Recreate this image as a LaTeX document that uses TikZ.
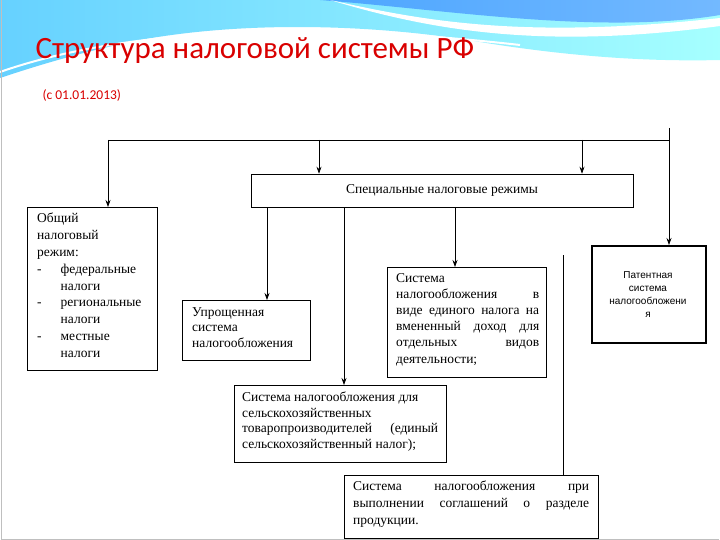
\documentclass[tikz,border=0pt]{standalone}
\usepackage{fontspec}
\setmainfont{Liberation Serif}
\newfontfamily\titlefont{Carlito}
\newfontfamily\patfont{Liberation Sans}
\usetikzlibrary{arrows.meta}
\begin{document}
\begin{tikzpicture}[x=1pt,y=-1pt,
  bx/.style={draw,line width=0.6pt,inner sep=0pt},
  tx/.style={anchor=north west,inner sep=0pt,font=\fontsize{13.5}{15.5}\selectfont},
  arr/.style={-{Stealth[length=7pt,width=5pt]},line width=0.7pt},
  ln/.style={line width=0.7pt}]
\useasboundingbox (0,0) rectangle (720,540);
\fill[white] (0,0) rectangle (720,540);
% header
\shade[left color=cyan!70!blue!60,right color=cyan!35] (0,0) -- (720,0) -- (720,60) .. controls (640,62) and (560,55) .. (480,42) .. controls (380,25) and (250,20) .. (140,40) .. controls (80,52) and (30,68) .. (0,78) -- cycle;
\shade[left color=cyan!50!blue!70,right color=cyan!50!blue!55] (320,0) -- (720,0) -- (720,15) .. controls (600,35) and (450,10) .. (320,0);
\fill[white] (330,0) .. controls (420,20) and (520,40) .. (720,18) -- (720,26) .. controls (540,50) and (430,30) .. (330,0);
\draw[white,line width=2pt] (0,72) .. controls (120,30) and (300,20) .. (520,45);
\draw[gray!50] (1,0) -- (1,539) -- (719,539);
\node[anchor=west,text=red!85!black,font=\titlefont\fontsize{31}{34}\selectfont] (title) at (32,51) {Структура налоговой системы РФ};
\node[anchor=west,text=red!85!black,font=\titlefont\fontsize{13.5}{15}\selectfont] (sub) at (39,96) {(с 01.01.2013)};
% boxes
\node[bx,minimum width=382,minimum height=33,font=\fontsize{13.5}{15}\selectfont] (spec) at (442,190.5) {Специальные налоговые режимы};
\node[bx,anchor=north west,minimum width=130,minimum height=163] (obsh) at (27,207) {};
\node[tx,text width=125,align=left,font=\fontsize{13.5}{16.8}\selectfont] at (37,213) {Общий\\налоговый\\режим:\\
-\hspace{19pt}федеральные\\\hspace{23.5pt}налоги\\-\hspace{19pt}региональные\\\hspace{23.5pt}налоги\\-\hspace{19pt}местные\\\hspace{23.5pt}налоги};
\node[bx,anchor=north west,minimum width=128,minimum height=60] (upr) at (182,300) {};
\node[tx,text width=120,align=left] at (192,307) {Упрощенная\\система\\налогообложения};
\node[bx,anchor=north west,minimum width=159,minimum height=110] (envd) at (387,267) {};
\node[tx,text width=143,align=justify,font=\fontsize{13.5}{16.2}\selectfont] at (396,273) {Система\\налогообложения\hfill в\\виде единого налога на вмененный доход для отдельных\hfill видов\\деятельности;};
\node[anchor=north west,draw,line width=1.6pt,minimum width=114,minimum height=97] (pat) at (591,245) {};
\node[align=center,font=\patfont\fontsize{10}{13}\selectfont,inner sep=0pt] at (648,295) {Патентная\\система\\налогообложени\\я};
\node[bx,anchor=north west,minimum width=212,minimum height=77] (selh) at (234,385) {};
\node[tx,text width=196,align=justify] at (242,392) {Система налогообложения для\\сельскохозяйственных\\товаропроизводителей (единый сельскохозяйственный налог);};
\node[bx,anchor=north west,minimum width=254,minimum height=63] (srp) at (344,475) {};
\node[tx,text width=236,align=justify,font=\fontsize{13.5}{17}\selectfont] at (353,481) {Система налогообложения при выполнении соглашений о разделе продукции.};
% connectors
\coordinate (tr) at (669,128);
\coordinate (tl) at (108,140);
\draw[ln] (tl) -- (669,140);
\draw[arr] (tr) -- (pat.north -| tr);
\draw[arr] (tl) -- (obsh.north -| tl);
\draw[arr] (319,140) -- (spec.north -| 319,0);
\draw[arr] (582,140) -- (spec.north -| 582,0);
\draw[arr] (spec.south -| 267,0) -- (upr.north -| 267,0);
\draw[arr] (spec.south -| 344,0) -- (selh.north -| 344,0);
\draw[arr] (spec.south -| 455,0) -- (envd.north -| 455,0);
\coordinate (fr) at (563,255);
\draw[ln] (fr) -- (srp.north -| fr);
\end{tikzpicture}
\end{document}
